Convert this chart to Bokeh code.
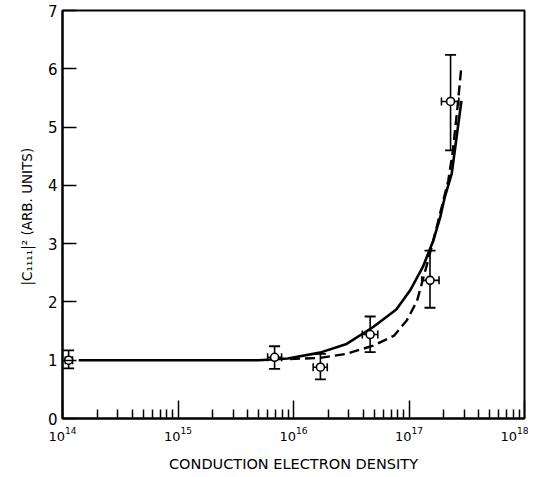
from bokeh.plotting import figure
from bokeh.models import (ColumnDataSource, Whisker, TeeHead, FixedTicker,
                          LogTickFormatter, Range1d)
from bokeh.embed import file_html
from bokeh.resources import INLINE

# ---- data ----
# measured points: conduction electron density and |C1111|^2
pt_x = [1.13e14, 6.86e15, 1.71e16, 4.61e16, 1.52e17, 2.29e17]
pt_xlo = [1.06e14, 5.97e15, 1.48e16, 3.94e16, 1.29e17, 1.91e17]
pt_xhi = [1.22e14, 7.89e15, 1.96e16, 5.37e16, 1.82e17, 2.70e17]
pt_y = [1.00, 1.05, 0.88, 1.44, 2.37, 5.44]
pt_ylo = [0.86, 0.85, 0.67, 1.14, 1.90, 4.60]
pt_yhi = [1.17, 1.24, 1.11, 1.75, 2.88, 6.24]

# solid theory curve (log10 density, value)
solid_logx = [14.14, 15.0, 15.7, 15.95, 16.23, 16.46, 16.69, 16.89, 17.01,
              17.12, 17.21, 17.27, 17.31, 17.37, 17.40, 17.454]
solid_y = [1.0, 1.0, 1.0, 1.03, 1.13, 1.28, 1.57, 1.87, 2.2,
           2.6, 3.05, 3.45, 3.8, 4.2, 4.65, 5.45]

# dashed theory curve
dash_logx = [15.97, 16.23, 16.46, 16.69, 16.87, 16.98, 17.07, 17.15, 17.21,
             17.34, 17.38, 17.42, 17.454]
dash_y = [1.02, 1.04, 1.11, 1.25, 1.42, 1.68, 2.02, 2.6, 3.05,
          4.08, 4.6, 5.34, 6.05]

decades = [1e14, 1e15, 1e16, 1e17, 1e18]
y_ticks = [0, 1, 2, 3, 4, 5, 6, 7]
x_label = "CONDUCTION ELECTRON DENSITY"
y_label = "|C\u2081\u2081\u2081\u2081|\u00b2  (ARB. UNITS)"

# ---- figure ----
p = figure(width=528, height=475, x_axis_type="log",
           x_range=Range1d(1e14, 1e18), y_range=Range1d(0, 7),
           output_backend="svg", toolbar_location=None,
           min_border_left=62, min_border_right=4,
           min_border_top=10, min_border_bottom=57)
p.background_fill_color = "white"
p.border_fill_color = "white"
p.outline_line_color = "black"
p.outline_line_width = 2
p.grid.visible = False

minor = [d * m for d in decades[:-1] for m in range(2, 10)]
p.xaxis.ticker = FixedTicker(ticks=decades, minor_ticks=minor)
p.xaxis.formatter = LogTickFormatter()
p.yaxis.ticker = FixedTicker(ticks=y_ticks)

for ax in (p.xaxis, p.yaxis):
    ax.axis_line_color = "black"
    ax.axis_line_width = 2
    ax.major_tick_line_color = "black"
    ax.major_tick_line_width = 1.5
    ax.minor_tick_line_color = "black"
    ax.minor_tick_line_width = 1.5
    ax.major_tick_out = 0
    ax.minor_tick_out = 0
    ax.major_label_text_color = "black"
    ax.major_label_text_font = "DejaVu Sans"
    ax.axis_label_text_color = "black"
    ax.axis_label_text_font = "DejaVu Sans"
    ax.axis_label_text_font_style = "normal"

p.xaxis.major_tick_in = 18
p.xaxis.minor_tick_in = 9
p.xaxis.major_label_text_font_size = "13px"
p.xaxis.major_label_standoff = 8
p.xaxis.axis_label = x_label
p.xaxis.axis_label_text_font_size = "14.5px"
p.xaxis.axis_label_standoff = 12

p.yaxis.major_tick_in = 14
p.yaxis.minor_tick_in = 0
p.yaxis.major_label_text_font_size = "15px"
p.yaxis.major_label_standoff = 5
p.yaxis.axis_label = y_label
p.yaxis.axis_label_text_font_size = "13.5px"
p.yaxis.axis_label_standoff = 10

# curves
p.line([10 ** v for v in solid_logx], solid_y, line_color="black", line_width=2.6)
p.line([10 ** v for v in dash_logx], dash_y, line_color="black", line_width=2.4,
       line_dash="10 5")

# error bars
src = ColumnDataSource(dict(x=pt_x, y=pt_y, xlo=pt_xlo, xhi=pt_xhi,
                            ylo=pt_ylo, yhi=pt_yhi))
p.add_layout(Whisker(source=src, base="x", lower="ylo", upper="yhi",
                     dimension="height", line_color="black", line_width=1.6,
                     upper_head=TeeHead(size=11, line_width=1.8, line_color="black"),
                     lower_head=TeeHead(size=11, line_width=1.8, line_color="black")))
p.add_layout(Whisker(source=src, base="y", lower="xlo", upper="xhi",
                     dimension="width", line_color="black", line_width=1.6,
                     upper_head=TeeHead(size=8, line_width=1.6, line_color="black"),
                     lower_head=TeeHead(size=8, line_width=1.6, line_color="black")))

p.scatter("x", "y", source=src, marker="circle", size=8, fill_color="white",
          line_color="black", line_width=1.6)

open("out.html", "w").write(file_html(p, INLINE))
